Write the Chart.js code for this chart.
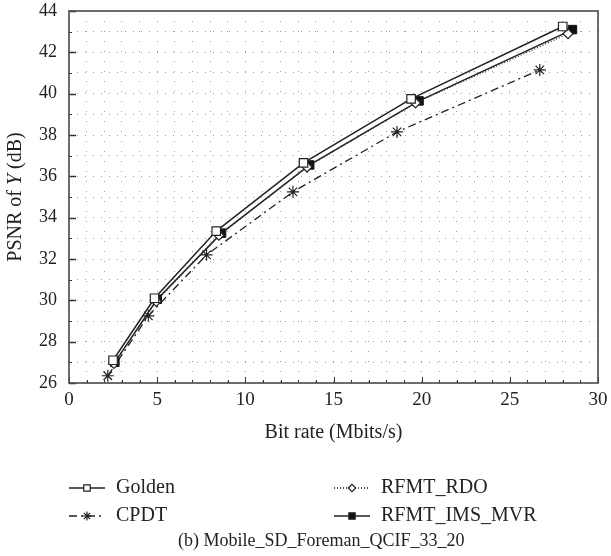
<!DOCTYPE html>
<html>
<head>
<meta charset="utf-8">
<script src="https://cdn.jsdelivr.net/npm/chart.js@4"></script>
<style>
    html, body { margin: 0; padding: 0; background: #fff; }
    #wrap { width: 611px; height: 556px; position: relative; }
</style>
</head>
<body>
<div id="wrap"><canvas id="rdChart" width="611" height="556"></canvas></div>
<script>
// --- Data ---
const bitRateGolden = [2.5, 4.85, 8.35, 13.3, 19.4, 28.0];
const psnrGolden    = [27.1, 30.1, 33.35, 36.65, 39.75, 43.25];

const bitRateRdo = [2.55, 4.95, 8.5, 13.5, 19.65, 28.3];
const psnrRdo    = [26.95, 29.95, 33.15, 36.45, 39.55, 42.9];

const bitRateMvr = [2.6, 5.0, 8.65, 13.65, 19.85, 28.55];
const psnrMvr    = [27.0, 30.05, 33.25, 36.55, 39.65, 43.1];

const bitRateCpdt = [2.2, 4.5, 7.8, 12.7, 18.6, 26.7];
const psnrCpdt    = [26.35, 29.25, 32.2, 35.25, 38.15, 41.15];

const xTickLabels = [0, 5, 10, 15, 20, 25, 30];
const yTickLabels = [26, 28, 30, 32, 34, 36, 38, 40, 42, 44];

const legendNames = ['Golden', 'RFMT_RDO', 'CPDT', 'RFMT_IMS_MVR'];

const SERIF = '"Liberation Serif", "DejaVu Serif", serif';

function toPoints(xs, ys) {
    return xs.map((x, i) => ({ x, y: ys[i] }));
}

// --- Frame, inward ticks, axis titles, legend and caption ---
const decorPlugin = {
    id: 'decor',
    afterDraw(chart) {
        const { ctx, chartArea: a, scales } = chart;
        const xs = scales.x, ys = scales.y;
        ctx.save();

        // tick marks pointing into the plot
        ctx.strokeStyle = '#333';
        ctx.lineWidth = 1;
        for (let v = 0; v <= 30; v++) {
            const px = Math.round(xs.getPixelForValue(v)) + 0.5;
            const len = xTickLabels.includes(v) ? 6 : 3;
            ctx.beginPath();
            ctx.moveTo(px, a.bottom);
            ctx.lineTo(px, a.bottom - len);
            ctx.stroke();
        }
        for (let v = 26; v <= 44; v++) {
            const py = Math.round(ys.getPixelForValue(v)) + 0.5;
            const len = yTickLabels.includes(v) ? 7 : 3;
            ctx.lineWidth = yTickLabels.includes(v) ? 1.5 : 1;
            ctx.beginPath();
            ctx.moveTo(a.left, py);
            ctx.lineTo(a.left + len, py);
            ctx.stroke();
        }

        // plot frame
        ctx.strokeStyle = '#4a4a4a';
        ctx.lineWidth = 1.6;
        ctx.strokeRect(a.left, a.top, a.right - a.left, a.bottom - a.top);

        // x axis title
        ctx.fillStyle = '#222';
        ctx.font = '20px ' + SERIF;
        ctx.textAlign = 'center';
        ctx.textBaseline = 'middle';
        ctx.fillText('Bit rate (Mbits/s)', (a.left + a.right) / 2, 433);

        // y axis title, with italic Y
        ctx.save();
        ctx.translate(16, 197);
        ctx.rotate(-Math.PI / 2);
        const parts = [['PSNR of ', ''], ['Y', 'italic '], [' (dB)', '']];
        let total = 0;
        parts.forEach(p => { ctx.font = p[1] + '20px ' + SERIF; total += ctx.measureText(p[0]).width; });
        let cx = -total / 2;
        ctx.textAlign = 'left';
        parts.forEach(p => {
            ctx.font = p[1] + '20px ' + SERIF;
            ctx.fillText(p[0], cx, 0);
            cx += ctx.measureText(p[0]).width;
        });
        ctx.restore();

        // legend, two columns
        const slots = [
            { x: 69, y: 488 }, { x: 334, y: 488 },
            { x: 69, y: 516 }, { x: 334, y: 516 }
        ];
        const byLabel = {};
        chart.data.datasets.forEach(d => { byLabel[d.label] = d; });
        legendNames.forEach((name, i) => {
            const d = byLabel[name];
            const s = slots[i];
            ctx.save();
            ctx.strokeStyle = '#222';
            ctx.lineWidth = 1.3;
            ctx.setLineDash(d.borderDash || []);
            ctx.beginPath();
            ctx.moveTo(s.x, s.y);
            ctx.lineTo(s.x + 36, s.y);
            ctx.stroke();
            ctx.setLineDash([]);
            ctx.fillStyle = d.pointBackgroundColor;
            ctx.strokeStyle = '#222';
            ctx.lineWidth = 1.2;
            Chart.helpers.drawPoint(ctx, {
                pointStyle: d.pointStyle, radius: d.pointRadius * 0.75, rotation: 0, borderWidth: 1.2
            }, s.x + 18, s.y);
            ctx.restore();
            ctx.fillStyle = '#222';
            ctx.font = '20px ' + SERIF;
            ctx.textAlign = 'left';
            ctx.fillText(name, s.x + 47, s.y);
        });

        // caption
        ctx.textAlign = 'left';
        ctx.font = '18px ' + SERIF;
        ctx.fillText('(b) Mobile_SD_Foreman_QCIF_33_20', 178, 541);

        ctx.restore();
    }
};

const ctx = document.getElementById('rdChart').getContext('2d');
new Chart(ctx, {
    type: 'line',
    data: {
        datasets: [
            {
                label: 'Golden',
                data: toPoints(bitRateGolden, psnrGolden),
                borderColor: '#222', borderWidth: 1.5,
                pointStyle: 'rect', pointRadius: 6,
                pointBackgroundColor: '#fff', pointBorderColor: '#222', pointBorderWidth: 1.2
            },
            {
                label: 'RFMT_RDO',
                data: toPoints(bitRateRdo, psnrRdo),
                borderColor: '#333', borderWidth: 1.3, borderDash: [1, 2],
                pointStyle: 'rectRot', pointRadius: 5,
                pointBackgroundColor: '#fff', pointBorderColor: '#222', pointBorderWidth: 1.2
            },
            {
                label: 'RFMT_IMS_MVR',
                data: toPoints(bitRateMvr, psnrMvr),
                borderColor: '#222', borderWidth: 1.5,
                pointStyle: 'rect', pointRadius: 6,
                pointBackgroundColor: '#111', pointBorderColor: '#111', pointBorderWidth: 1
            },
            {
                label: 'CPDT',
                data: toPoints(bitRateCpdt, psnrCpdt),
                borderColor: '#222', borderWidth: 1.3, borderDash: [8, 4, 2, 4],
                pointStyle: 'star', pointRadius: 6,
                pointBackgroundColor: '#222', pointBorderColor: '#222', pointBorderWidth: 1.2
            }
        ]
    },
    options: {
        responsive: false,
        animation: false,
        layout: { padding: { left: 0, right: 13, top: 11, bottom: 0 } },
        elements: { line: { tension: 0, fill: false } },
        plugins: {
            legend: { display: false },
            tooltip: { enabled: false },
            title: { display: false }
        },
        scales: {
            x: {
                type: 'linear',
                min: 0, max: 30,
                afterFit: s => { s.height = 173; s.paddingLeft = 0; s.paddingRight = 0; },
                grid: { color: '#a0a0a0', lineWidth: 1, drawTicks: false },
                border: { display: false, dash: [1, 9] },
                ticks: {
                    stepSize: 1, autoSkip: false, maxRotation: 0, padding: 8,
                    color: '#222', font: { family: SERIF, size: 19, lineHeight: 1 },
                    callback: v => xTickLabels.includes(v) ? String(v) : ''
                }
            },
            y: {
                type: 'linear',
                min: 26, max: 44,
                afterFit: s => { s.width = 69; s.paddingTop = 0; s.paddingBottom = 0; },
                grid: { color: '#a0a0a0', lineWidth: 1, drawTicks: false },
                border: { display: false, dash: [1, 7] },
                ticks: {
                    stepSize: 1, autoSkip: false, padding: 12,
                    color: '#222', font: { family: SERIF, size: 18, lineHeight: 1 },
                    callback: v => yTickLabels.includes(v) ? String(v) : ''
                }
            }
        }
    },
    plugins: [decorPlugin]
});
</script>
</body>
</html>
